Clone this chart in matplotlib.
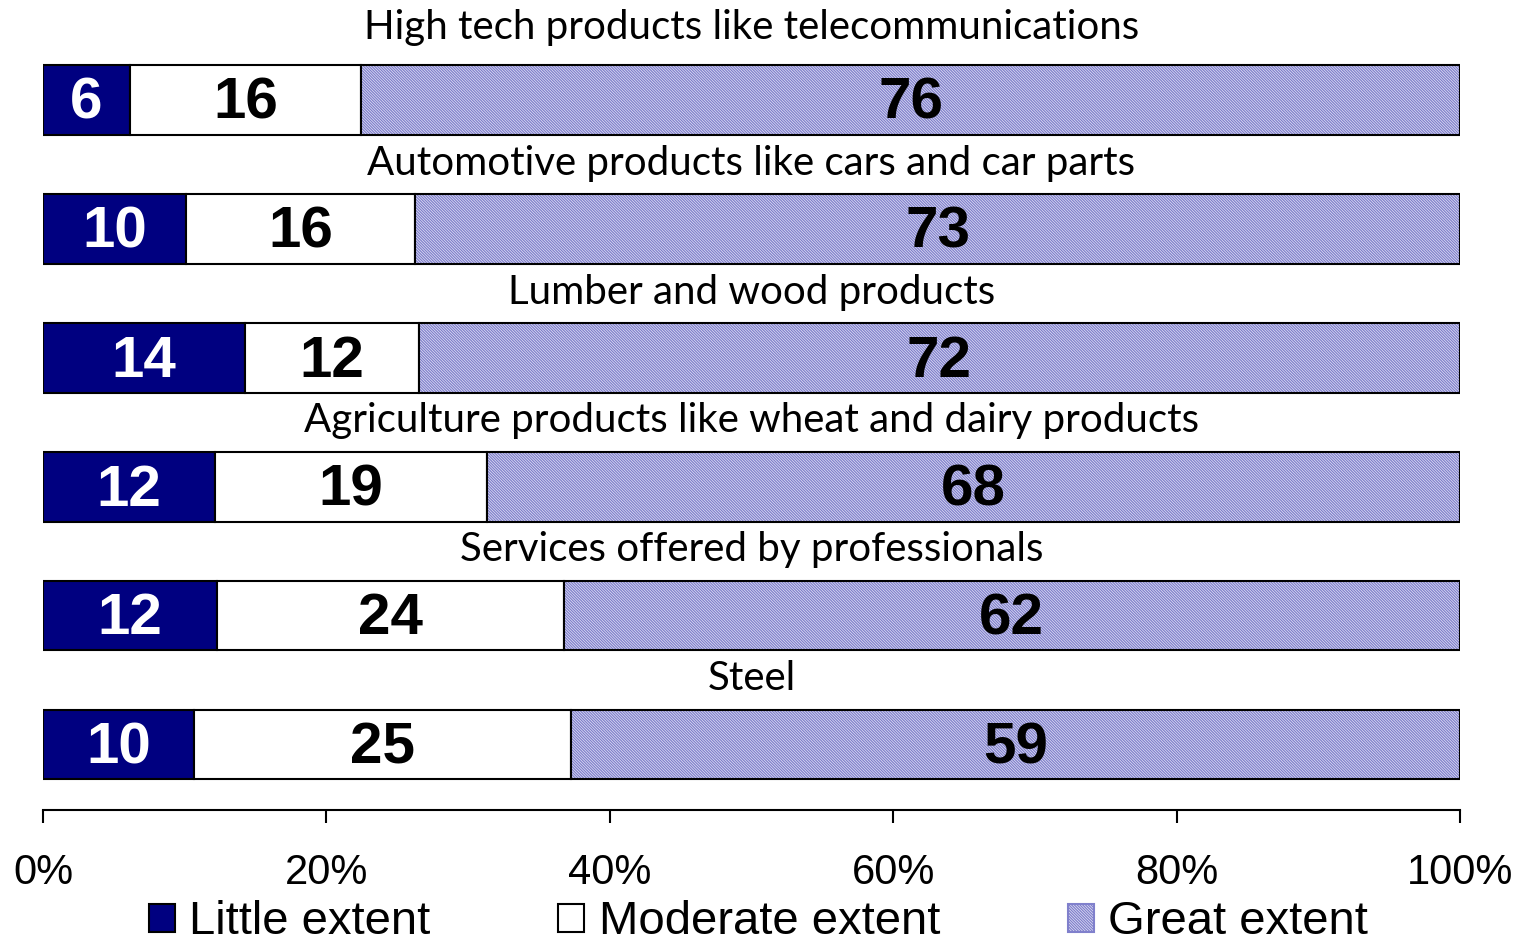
import numpy as np
import matplotlib
matplotlib.use("Agg")
import matplotlib.pyplot as plt
from matplotlib.patches import Patch

categories = ["High tech products like telecommunications",
              "Automotive products like cars and car parts",
              "Lumber and wood products",
              "Agriculture products like wheat and dairy products",
              "Services offered by professionals",
              "Steel"]
little = [6, 10, 14, 12, 12, 10]
moderate = [16, 16, 12, 19, 24, 25]
great = [76, 73, 72, 68, 62, 59]
series_names = ["Little extent", "Moderate extent", "Great extent"]

plt.rcParams['hatch.linewidth'] = 0.9

vals = np.array([little, moderate, great], dtype=float)
pct = vals / vals.sum(axis=0) * 100  # each bar stretched to 100%

fig = plt.figure(figsize=(15.26, 9.5), dpi=100)
ax = fig.add_axes([43/1526, 1 - 810/950, (1460-43)/1526, 810/950])

y = np.arange(len(categories))
h = 0.54
navy = "#000080"
hatch_col = "#8080cc"

left = np.zeros(len(categories))
for k in range(3):
    if k == 0:
        ax.barh(y, pct[k], h, left=left, color=navy, edgecolor="black", linewidth=1.5)
    elif k == 1:
        ax.barh(y, pct[k], h, left=left, color="white", edgecolor="black", linewidth=1.5)
    else:
        ax.barh(y, pct[k], h, left=left, color="#e6e6f6", edgecolor=hatch_col,
                hatch="\\" * 12, linewidth=0)
        ax.barh(y, pct[k], h, left=left, fill=False, edgecolor="black", linewidth=1.5)
    for i in range(len(categories)):
        ax.text(left[i] + pct[k][i] / 2, y[i] + 0.03, str(int(vals[k][i])),
                ha="center", va="center", fontsize=42, fontweight="bold",
                family="Liberation Sans",
                color="white" if k == 0 else "black")
    left += pct[k]

for i, c in enumerate(categories):
    off = 0.56 if i == 0 else 0.51
    ax.text(50, y[i] - off, c, ha="center", va="center", fontsize=29, family="Lato")

ax.set_xlim(0, 100)
ax.set_ylim(5.508, -0.776)
for s in ["top", "left", "right"]:
    ax.spines[s].set_visible(False)
ax.spines["bottom"].set_linewidth(1.5)
ax.set_yticks([])
ax.set_xticks(np.arange(0, 101, 20))
ax.set_xticklabels([f"{t}%" for t in range(0, 101, 20)], family="Liberation Sans", fontsize=30)
ax.tick_params(axis="x", direction="out", length=9, width=1.5, pad=22)

handles = [Patch(facecolor=navy, edgecolor="black"),
           Patch(facecolor="white", edgecolor="black"),
           Patch(facecolor="#e6e6f6", edgecolor=hatch_col, hatch="\\" * 12)]
leg = fig.legend(handles, series_names, loc="center", bbox_to_anchor=(0.497, 0.029), ncol=3,
                 frameon=False, prop={"family": "Liberation Sans", "size": 34},
                 handlelength=0.55, handleheight=0.55, handletextpad=0.31, columnspacing=2.7)
for p in leg.get_patches():
    p.set_linewidth(1.5)

fig.savefig("out.png", dpi=100)
